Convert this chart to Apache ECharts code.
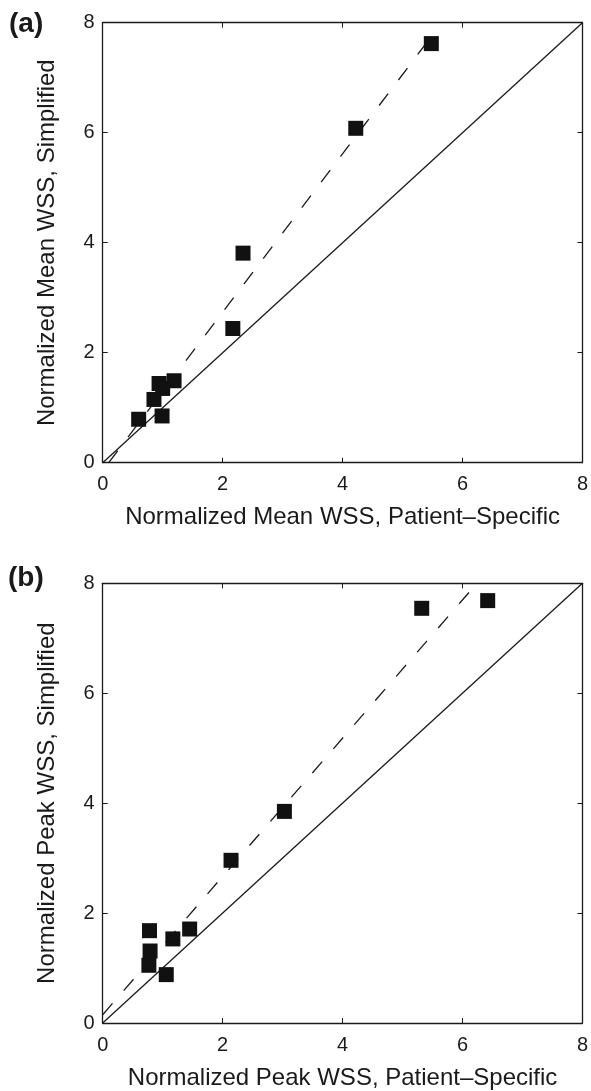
<!DOCTYPE html>
<html>
<head>
<meta charset="utf-8">
<script src="https://cdn.jsdelivr.net/npm/echarts@6/dist/echarts.min.js"></script>
<style>
  html, body { margin: 0; padding: 0; background: #fff; }
  #chart { width: 591px; height: 1091px; }
</style>
</head>
<body>
<div id="chart"></div>
<script>
// panel (a): mean WSS, patient-specific vs simplified
const meanPatient = [0.60, 0.855, 0.99, 0.94, 1.00, 1.19, 2.17, 2.34, 4.22, 5.48]
const meanSimplified = [0.79, 1.15, 0.85, 1.44, 1.35, 1.49, 2.44, 3.81, 6.08, 7.62]
const meanFit = [[0.1, 0], [5.55, 7.85]]

// panel (b): peak WSS
const peakPatient = [0.77, 0.79, 0.78, 1.06, 1.17, 1.45, 2.14, 3.03, 5.32, 6.42]
const peakSimplified = [1.05, 1.31, 1.68, 0.88, 1.53, 1.71, 2.96, 3.85, 7.545, 7.685]
const peakFit = [[0, 0.15], [6.24, 8]]

const identity = [[0, 0], [8, 8]]

const panelTitles = ['(a)', '(b)']
const xNames = ['Normalized Mean WSS, Patient\u2013Specific', 'Normalized Peak WSS, Patient\u2013Specific']
const yNames = ['Normalized Mean WSS, Simplified', 'Normalized Peak WSS, Simplified']

const font = 'Liberation Sans'
const ink = '#1a1a1a'

const zip = (xs, ys) => xs.map((x, i) => [x, ys[i]])

const grids = [
  { left: 102.7, top: 22.7, width: 480.6, height: 440 },
  { left: 102.7, top: 583.3, width: 480.6, height: 440 }
]

const tickLabel = (show, margin) => ({
  show: show,
  margin: margin,
  fontFamily: font,
  fontSize: 20,
  color: ink
})

// 坐标轴：下/左带标签，上/右只有刻度
const makeX = (gi, pos) => ({
  gridIndex: gi,
  type: 'value',
  position: pos,
  min: 0, max: 8, interval: 2,
  name: pos === 'bottom' ? xNames[gi] : '',
  nameLocation: 'middle',
  nameGap: 43,
  nameTextStyle: { fontFamily: font, fontSize: 24, color: ink },
  axisLine: { show: true, onZero: false, lineStyle: { color: ink, width: 1.3 } },
  axisTick: { show: true, inside: true, length: 5, lineStyle: { color: ink, width: 1 } },
  axisLabel: tickLabel(pos === 'bottom', 12),
  splitLine: { show: false }
})
const makeY = (gi, pos) => ({
  gridIndex: gi,
  type: 'value',
  position: pos,
  min: 0, max: 8, interval: 2,
  name: pos === 'left' ? yNames[gi] : '',
  nameLocation: 'middle',
  nameGap: 43,
  nameTextStyle: { fontFamily: font, fontSize: 24, color: ink },
  axisLine: { show: true, onZero: false, lineStyle: { color: ink, width: 1.3 } },
  axisTick: { show: true, inside: true, length: 5, lineStyle: { color: ink, width: 1 } },
  axisLabel: tickLabel(pos === 'left', 8),
  splitLine: { show: false }
})

const lineSeries = (axisIdx, data, dashed) => ({
  type: 'line',
  xAxisIndex: axisIdx,
  yAxisIndex: axisIdx,
  data: data,
  showSymbol: false,
  silent: true,
  lineStyle: { color: ink, width: 1.3, type: dashed ? [15, 17] : 'solid' },
  z: 2
})
const scatterSeries = (axisIdx, data) => ({
  type: 'scatter',
  xAxisIndex: axisIdx,
  yAxisIndex: axisIdx,
  data: data,
  symbol: 'rect',
  symbolSize: 15,
  itemStyle: { color: '#111', opacity: 1 },
  z: 3
})

const option = {
  animation: false,
  backgroundColor: '#fff',
  textStyle: { fontFamily: font },
  grid: grids,
  xAxis: [makeX(0, 'bottom'), makeX(1, 'bottom'), makeX(0, 'top'), makeX(1, 'top')],
  yAxis: [makeY(0, 'left'), makeY(1, 'left'), makeY(0, 'right'), makeY(1, 'right')],
  graphic: [
    { type: 'text', left: 9, top: 10, style: { text: panelTitles[0], font: 'bold 28px "Liberation Sans"', fill: ink } },
    { type: 'text', left: 8, top: 564, style: { text: panelTitles[1], font: 'bold 28px "Liberation Sans"', fill: ink } }
  ],
  series: [
    lineSeries(0, identity, false),
    lineSeries(0, meanFit, true),
    scatterSeries(0, zip(meanPatient, meanSimplified)),
    lineSeries(1, identity, false),
    lineSeries(1, peakFit, true),
    scatterSeries(1, zip(peakPatient, peakSimplified))
  ]
}

const chart = echarts.init(document.getElementById('chart'))
chart.setOption(option)
</script>
</body>
</html>
